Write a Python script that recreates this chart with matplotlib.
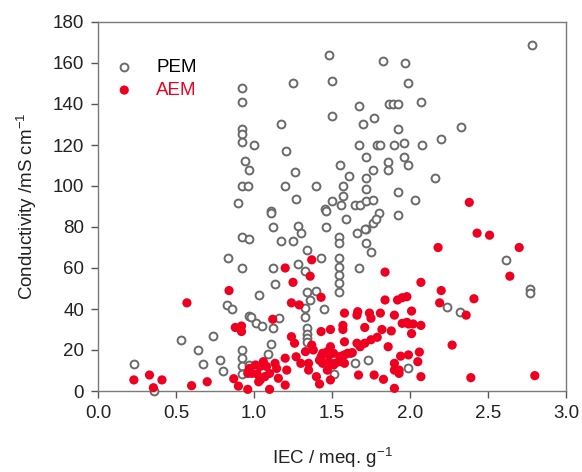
import matplotlib
matplotlib.use('Agg')
import matplotlib.pyplot as plt
import numpy as np

plt.rcParams['font.family'] = ['Liberation Sans', 'DejaVu Sans']
plt.rcParams['mathtext.default'] = 'regular'

# PEM (open grey circles): IEC (meq/g), conductivity (mS/cm)
pem_iec = [0.92, 0.92, 0.92, 0.92, 0.92, 0.94, 0.97, 0.92, 0.96, 0.90,
           1.48, 1.83, 1.97, 1.25, 1.50, 1.99, 1.67, 1.865, 1.893, 1.921,
           1.50, 1.17, 1.70, 1.77, 1.92, 1.00, 1.205, 1.67, 1.79, 1.81,
           1.90, 1.96, 1.263, 1.55, 1.61, 1.72, 1.76, 1.86, 1.86, 1.96,
           1.99, 1.20, 1.40, 1.72, 1.57, 1.72, 1.92, 1.27, 1.50, 1.57,
           1.56, 1.455, 1.65, 1.68, 1.72, 1.76, 1.11,
           2.78, 2.07, 2.33, 2.20, 2.08, 2.16, 2.03,
           0.92, 0.97, 0.835, 0.92, 0.83, 0.86, 0.97, 0.53, 0.74, 0.64,
           0.92, 0.23, 0.67, 0.78, 0.80, 0.92, 0.92, 0.92, 0.97, 0.36,
           1.11, 1.12, 1.17, 1.25, 1.28, 1.30, 1.34, 1.46, 1.46, 1.59,
           1.545, 1.545, 1.545, 1.545, 1.545, 1.545, 1.545, 1.66, 1.72, 1.765,
           1.80, 1.72, 1.75, 1.92, 1.67, 1.43, 1.28, 1.33, 1.135, 1.03,
           1.34, 1.40, 1.36, 1.45, 1.33, 1.33, 1.01, 1.05, 0.98, 1.16,
           1.12, 1.34, 1.34, 1.34, 1.34, 1.11, 1.09, 1.65, 1.73, 1.51,
           1.99, 1.124, 1.78, 1.71,
           2.615, 2.77, 2.77, 2.24, 2.32]
pem_cond = [148, 141, 128, 125.5, 121.5, 112, 108, 100, 100, 91.5,
            164, 161, 160, 150, 151, 150, 139, 140, 140, 140,
            134, 130, 130, 133, 128, 120, 117, 120, 120, 120,
            120, 121, 107, 110, 105, 114, 108, 111.5, 108, 114,
            110, 100, 100, 104, 100, 98.5, 97, 93.5, 92.5, 95,
            90.5, 89, 90.5, 90.5, 92.5, 93, 88,
            169, 141, 129, 123, 120, 104, 93,
            75, 74, 65, 60, 42, 40, 36.5, 25, 27, 20,
            20, 13, 13, 15, 10, 16, 12, 8.5, 12.5, 0,
            87, 80, 73, 73, 80.5, 77, 69, 80, 88, 84,
            75, 72, 65, 60.5, 56.5, 52.5, 48.5, 77, 79, 82,
            87, 72, 68, 86, 60, 65, 62, 58.5, 52, 47,
            48.5, 49, 44.5, 40, 40.5, 36, 33, 31.5, 36, 35.5,
            30.5, 30.5, 28, 26, 24, 23, 18, 13.5, 15, 8.5,
            11, 60, 84, 79,
            64, 50, 48, 41, 38.7]

# AEM (filled red circles)
aem_iec = [0.84, 0.57, 0.88, 0.92, 0.92, 0.23, 0.33, 0.355, 0.41, 0.60,
           0.70, 0.87, 0.90, 0.96, 0.96,
           1.37, 1.20, 1.25, 1.36, 1.43, 1.84, 1.24, 1.29, 1.12, 1.58,
           1.665, 1.66, 1.74, 1.75, 1.81, 1.84, 1.90, 1.92, 1.95, 1.98,
           1.57, 1.57, 1.71, 1.82, 1.88, 1.95, 1.98, 1.43, 1.49, 1.24,
           1.26, 1.58, 1.66, 1.68, 1.71, 1.75, 1.79, 1.86, 1.33, 1.38,
           1.37, 1.49, 1.47, 1.43, 1.42, 1.56, 1.60, 1.63, 1.52, 1.58,
           1.48, 1.27, 1.30, 1.35, 1.35, 1.20, 1.21, 1.135, 1.145, 1.156,
           1.06, 1.04, 1.01, 0.97, 0.985, 1.02, 1.04, 1.07, 1.10, 1.08,
           1.10, 1.20, 1.40, 1.42, 1.49, 1.67, 1.77, 1.83, 1.90, 1.90,
           1.94, 1.99, 1.93,
           1.44, 1.48, 1.51, 1.55, 1.58, 1.62, 1.44, 1.51, 1.55, 1.47,
           1.90, 1.93, 1.03,
           2.38, 2.43, 2.51, 2.18, 2.70, 2.64, 2.07, 2.20, 2.19, 2.41,
           2.36, 2.01, 1.99, 2.02, 2.07, 2.01, 2.27, 2.06, 2.05, 2.07,
           2.39, 2.80]
aem_cond = [49, 43, 31, 31.7, 29, 5.4, 7.8, 1.6, 5.4, 2.6,
            4.5, 6, 2.4, 8.6, 0.8,
            64, 60, 53, 56, 45.7, 58, 43, 42, 35, 38,
            38.7, 37, 38, 35.5, 38, 44.4, 37, 44.4, 45.5, 46,
            32, 30, 31, 30, 29.3, 33, 33.5, 29, 30, 26.5,
            23.3, 24, 23.3, 21.6, 23.3, 25, 26.2, 21.6, 19.2, 20,
            22.4, 21.6, 19.2, 16.7, 15, 17, 18.4, 18.7, 13.5, 13.5,
            14.3, 16.7, 13.5, 13.5, 10.2, 16, 10.2, 13.5, 11, 6.2,
            14.3, 12, 12.7, 11, 8.6, 8.3, 5.4, 7, 8.6, 12,
            0.8, 2.9, 7, 3.4, 5.4, 7.8, 7.8, 5.7, 1.3, 13.5,
            17, 17.6, 10.2,
            18.4, 17.6, 18.4, 16.7, 17.6, 18.4, 13.5, 12.7, 14.3, 10.2,
            10.2, 8.6, 4.5,
            92, 77, 76, 70, 70, 56, 53, 49, 43, 45,
            37, 39, 32.7, 32.7, 32, 28, 22.4, 19, 14.3, 7,
            6.5, 7.5]

x_ticks = [0.0, 0.5, 1.0, 1.5, 2.0, 2.5, 3.0]
y_ticks = [0, 20, 40, 60, 80, 100, 120, 140, 160, 180]

fig = plt.figure(figsize=(5.82, 4.72), dpi=100)
ax = fig.add_axes([98/582, 1-391/472, 468/582, 369/472])

ax.scatter(pem_iec, pem_cond, s=32, facecolors='white', edgecolors='#6a6a6a',
           linewidths=1.4, label='PEM', clip_on=False, zorder=3)
ax.scatter(aem_iec, aem_cond, s=44, color='#f00020', edgecolors='none',
           label='AEM', clip_on=False, zorder=4)

ax.set_xlim(0, 3.0)
ax.set_ylim(0, 180)
ax.set_xticks(x_ticks)
ax.set_xticklabels([f'{v:.1f}' for v in x_ticks])
ax.set_yticks(y_ticks)

for s in ax.spines.values():
    s.set_color('#7a7a7a')
    s.set_linewidth(1.0)
ax.tick_params(direction='out', length=5, width=1, color='#555555',
               labelsize=13.5, labelcolor='#222222', pad=5)

ax.set_xlabel('IEC / meq. g$^{-1}$', fontsize=13.5, color='#222222', labelpad=17)
ax.set_ylabel('Conductivity /mS cm$^{-1}$', fontsize=13.5, color='#222222', labelpad=10)

leg = ax.legend(loc='upper left', bbox_to_anchor=(-0.012, 0.935), frameon=False,
                fontsize=13.5, handletextpad=0.7, labelspacing=0.3,
                borderaxespad=0.3, labelcolor=['black', '#f00020'])

fig.savefig('out.png', dpi=100)
